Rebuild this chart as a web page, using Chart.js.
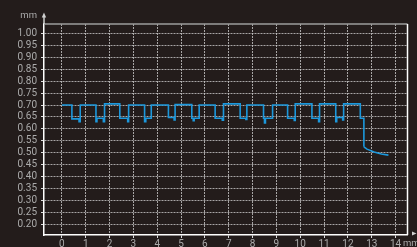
<!DOCTYPE html>
<html>
<head>
<meta charset="utf-8">
<script src="https://cdn.jsdelivr.net/npm/chart.js@4/dist/chart.umd.min.js"></script>
<style>
  html, body { margin: 0; padding: 0; background: #231c1b; }
  #wrap { position: relative; width: 417px; height: 247px; }
</style>
</head>
<body>
<div id="wrap"><canvas id="c"></canvas></div>
<script>
// step trace: x where the level changes, and the new level (mm)
const stepX = [0, 0.42, 0.72, 0.77, 1.43, 1.47, 1.74, 1.79, 2.43, 2.76, 2.80,
  3.47, 3.52, 3.75, 4.47, 4.71, 4.75, 5.45, 5.51, 5.55, 5.76, 6.43, 6.73, 6.78,
  7.48, 7.72, 7.76, 8.46, 8.50, 8.54, 8.84, 9.47, 9.75, 9.79, 10.49, 10.77, 10.81,
  11.49, 11.53, 11.78, 11.82, 12.52, 12.67];
const stepY = [0.70, 0.642, 0.63, 0.70, 0.63, 0.645, 0.63, 0.705, 0.645, 0.63, 0.70,
  0.63, 0.645, 0.70, 0.648, 0.638, 0.702, 0.645, 0.634, 0.645, 0.70, 0.645, 0.636, 0.705,
  0.645, 0.64, 0.70, 0.645, 0.625, 0.645, 0.70, 0.645, 0.635, 0.705, 0.645, 0.63, 0.705,
  0.63, 0.648, 0.638, 0.705, 0.645, 0.525];

// tail after the last drop
const tailX = [12.67, 12.8, 13.1, 13.4, 13.7];
const tailY = [0.525, 0.515, 0.503, 0.495, 0.49];

const xTicks = [0, 1, 2, 3, 4, 5, 6, 7, 8, 9, 10, 11, 12, 13, 14];
const yTicks = [0.20, 0.25, 0.30, 0.35, 0.40, 0.45, 0.50, 0.55, 0.60, 0.65,
  0.70, 0.75, 0.80, 0.85, 0.90, 0.95, 1.00];
const unitLabel = 'mm';

const lineColor = '#1c98dc';
const labelColor = '#ababab';
const gridColor = 'rgba(200,200,200,0.8)';
const font = { family: 'Roboto', size: 10 };

const toPts = (xs, ys) => xs.map((x, i) => ({ x: x, y: ys[i] }));

// borders, arrows and unit labels
const extras = {
  id: 'extras',
  afterDraw(chart) {
    const { ctx, chartArea: a } = chart;
    ctx.save();
    ctx.lineWidth = 1.5;
    ctx.strokeStyle = '#9c9c9c';
    ctx.beginPath(); ctx.moveTo(a.left, a.top); ctx.lineTo(a.right, a.top); ctx.stroke();
    ctx.strokeStyle = '#ffffff';
    ctx.beginPath(); ctx.moveTo(a.right, a.top); ctx.lineTo(a.right, a.bottom); ctx.stroke();

    // y arrow
    ctx.strokeStyle = '#d0d0d0';
    ctx.beginPath(); ctx.moveTo(a.left, a.top); ctx.lineTo(a.left, a.top - 7); ctx.stroke();
    ctx.fillStyle = '#d0d0d0';
    ctx.beginPath();
    ctx.moveTo(a.left, a.top - 11.5);
    ctx.lineTo(a.left - 2.2, a.top - 6.5);
    ctx.lineTo(a.left + 2.2, a.top - 6.5);
    ctx.closePath(); ctx.fill();

    // x arrow
    ctx.beginPath();
    ctx.moveTo(a.right + 9, a.bottom - 1.5);
    ctx.lineTo(a.right + 4.5, a.bottom - 3.5);
    ctx.lineTo(a.right + 4.5, a.bottom + 0.5);
    ctx.closePath(); ctx.fill();

    ctx.fillStyle = labelColor;
    ctx.font = '9.5px ' + font.family;
    ctx.textAlign = 'right';
    ctx.textBaseline = 'alphabetic';
    ctx.fillText(unitLabel, a.left - 7, a.top - 6.5);
    ctx.textAlign = 'left';
    ctx.fillText(unitLabel, a.right - 4.5, a.bottom + 10.5);
    ctx.restore();
  }
};

new Chart(document.getElementById('c'), {
  type: 'line',
  data: {
    datasets: [
      {
        data: toPts(stepX, stepY),
        stepped: 'before',
        borderColor: lineColor,
        borderWidth: 1.6,
        pointRadius: 0
      },
      {
        data: toPts(tailX, tailY),
        borderColor: lineColor,
        borderWidth: 1.6,
        pointRadius: 0,
        tension: 0
      }
    ]
  },
  options: {
    responsive: true,
    maintainAspectRatio: false,
    animation: false,
    devicePixelRatio: 1,
    layout: { padding: { top: 24, right: 9.5, left: 0, bottom: 0 } },
    plugins: { legend: { display: false }, tooltip: { enabled: false } },
    scales: {
      x: {
        type: 'linear',
        min: -0.75,
        max: 14.5,
        afterBuildTicks: s => { s.ticks = xTicks.map(v => ({ value: v })); },
        afterFit: s => { s.height = 12; },
        ticks: {
          color: labelColor, font: font, padding: 0, maxRotation: 0, autoSkip: false,
          callback: (v, i) => String(xTicks[i])
        },
        grid: { color: gridColor, lineWidth: 1, tickLength: 3, tickColor: '#dddddd' },
        border: { display: true, color: '#ffffff', width: 1.5, dash: [2, 1] }
      },
      y: {
        type: 'linear',
        min: 0.155,
        max: 1.04,
        afterBuildTicks: s => { s.ticks = yTicks.map(v => ({ value: v })); },
        afterFit: s => { s.width = 44; },
        ticks: {
          color: labelColor, font: font, padding: 4, autoSkip: false,
          callback: (v, i) => yTicks[i].toFixed(2)
        },
        grid: { color: gridColor, lineWidth: 1, tickLength: 3, tickColor: '#dddddd' },
        border: { display: true, color: '#ffffff', width: 1.5, dash: [2, 1] }
      }
    }
  },
  plugins: [extras]
});
</script>
</body>
</html>
